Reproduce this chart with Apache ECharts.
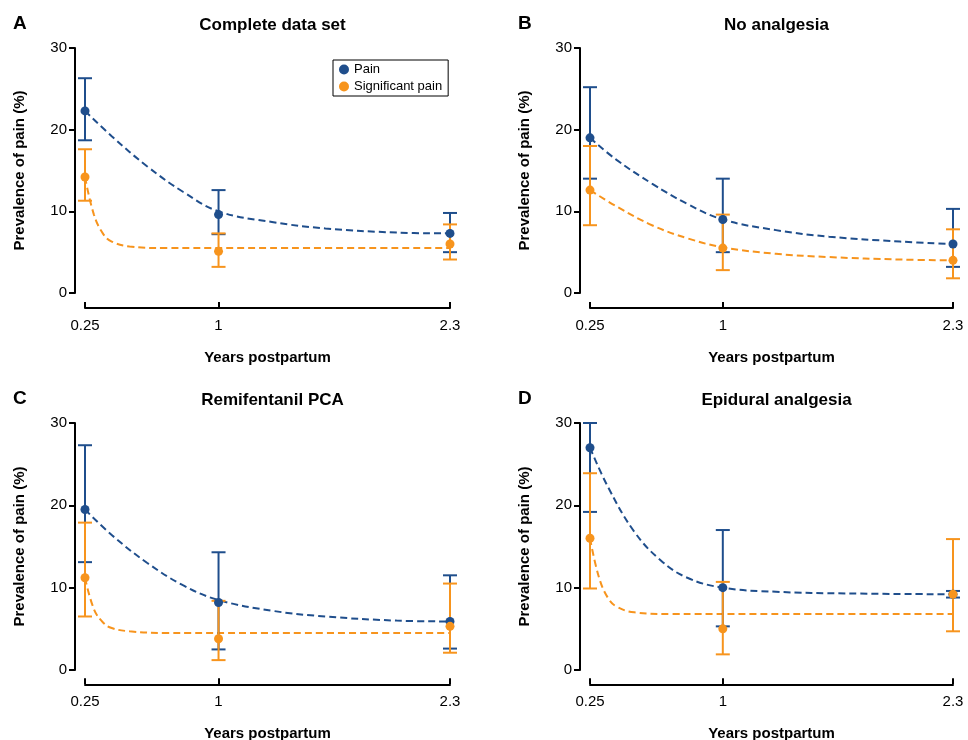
<!DOCTYPE html>
<html><head><meta charset="utf-8">
<script src="https://cdn.jsdelivr.net/npm/echarts@6/dist/echarts.min.js"></script>
<style>html,body{margin:0;background:#fff}#c{width:968px;height:740px}</style></head>
<body><div id="c"></div>
<script>
var xTicks=[0.25,1,2.3];
var panelTitles=['Complete data set','No analgesia','Remifentanil PCA','Epidural analgesia'];
var panelLetters=['A','B','C','D'];
// [x, value, low, high]
var painA=[[0.25,22.3,18.7,26.3],[1,9.6,7.2,12.6],[2.3,7.3,5.0,9.8]];
var sigA=[[0.25,14.2,11.3,17.6],[1,5.1,3.2,7.3],[2.3,6.0,4.1,8.4]];
var painB=[[0.25,19.0,14.0,25.2],[1,9.0,5.0,14.0],[2.3,6.0,3.2,10.3]];
var sigB=[[0.25,12.6,8.3,18.0],[1,5.5,2.8,9.6],[2.3,4.0,1.8,7.8]];
var painC=[[0.25,19.5,13.1,27.3],[1,8.2,2.5,14.3],[2.3,5.9,2.6,11.5]];
var sigC=[[0.25,11.2,6.5,17.9],[1,3.8,1.2,8.4],[2.3,5.3,2.1,10.5]];
var painD=[[0.25,27.0,19.2,30],[1,10.0,5.3,17.0],[2.3,9.2,8.8,9.6]];
var sigD=[[0.25,16.0,9.9,23.9],[1,5.0,1.9,10.7],[2.3,9.2,4.7,15.9]];
// fitted curves
var fitPainA=[[0.25,22.3],[0.4,19.2],[0.6,15.5],[0.8,12.4],[1,10.0],[1.3,8.7],[1.6,7.9],[2.0,7.4],[2.3,7.3]];
var fitSigA=[[0.25,14.2],[0.3,9.6],[0.35,7.3],[0.4,6.3],[0.5,5.7],[0.7,5.5],[1.5,5.5],[2.3,5.5]];
var fitPainB=[[0.25,19.0],[0.4,16.3],[0.6,13.4],[0.8,10.9],[1,9.0],[1.3,7.7],[1.6,6.9],[2.0,6.3],[2.3,6.0]];
var fitSigB=[[0.25,12.6],[0.4,10.6],[0.6,8.3],[0.8,6.7],[1,5.6],[1.3,4.8],[1.6,4.4],[2.0,4.1],[2.3,4.0]];
var fitPainC=[[0.25,19.5],[0.4,16.4],[0.6,13.0],[0.8,10.3],[1,8.5],[1.3,7.2],[1.6,6.5],[2.0,6.0],[2.3,5.9]];
var fitSigC=[[0.25,11.2],[0.3,7.4],[0.35,5.8],[0.4,5.1],[0.5,4.7],[0.7,4.5],[1.5,4.5],[2.3,4.5]];
var fitPainD=[[0.25,27.0],[0.35,22.3],[0.5,16.8],[0.65,13.3],[0.8,11.2],[1,10.0],[1.3,9.5],[1.7,9.3],[2.3,9.2]];
var fitSigD=[[0.25,16.0],[0.3,11.3],[0.35,8.8],[0.4,7.7],[0.5,7.0],[0.7,6.8],[1.5,6.8],[2.3,6.8]];

var pains=[painA,painB,painC,painD], sigs=[sigA,sigB,sigC,sigD];
var fitPains=[fitPainA,fitPainB,fitPainC,fitPainD], fitSigs=[fitSigA,fitSigB,fitSigC,fitSigD];
var BLUE='#1f4e8c', ORANGE='#f7941d';
var grids=[{left:85,top:48,width:365,height:245},{left:590,top:48,width:363,height:245},
           {left:85,top:423,width:365,height:247},{left:590,top:423,width:363,height:247}];
var opt={animation:false,textStyle:{fontFamily:'Arial, Liberation Sans'},grid:[],xAxis:[],yAxis:[],series:[],title:[],
 legend:{show:true,data:['Pain','Significant pain'],left:333,top:60,orient:'vertical',itemGap:4,itemWidth:10,itemHeight:10,
  borderColor:'#000',borderWidth:1,padding:[3,6,3,6],textStyle:{fontSize:13,color:'#000'}}};
function errSeries(data,color,i){
 return {type:'custom',xAxisIndex:i,yAxisIndex:i,z:3,clip:false,
  data:data.map(function(d){return [d[0],d[2],d[3]];}),
  renderItem:function(p,api){var x=api.value(0);var lo=api.coord([x,api.value(1)]),hi=api.coord([x,api.value(2)]);var w=7;
   var st={stroke:color,lineWidth:2};
   return {type:'group',children:[
    {type:'line',shape:{x1:lo[0],y1:lo[1],x2:hi[0],y2:hi[1]},style:st},
    {type:'line',shape:{x1:lo[0]-w,y1:lo[1],x2:lo[0]+w,y2:lo[1]},style:st},
    {type:'line',shape:{x1:hi[0]-w,y1:hi[1],x2:hi[0]+w,y2:hi[1]},style:st}]};}};
}
for(var i=0;i<4;i++){
 var g=grids[i];
 opt.grid.push(g);
 opt.xAxis.push({type:'value',gridIndex:i,min:0.25,max:2.3,show:false,splitLine:{show:false}});
 opt.yAxis.push({type:'value',gridIndex:i,min:0,max:30,interval:10,offset:10,name:'Prevalence of pain (%)',nameLocation:'middle',nameGap:48,
  nameTextStyle:{fontSize:15,fontWeight:'bold',color:'#000'},
  axisLine:{show:true,lineStyle:{color:'#000',width:2}},splitLine:{show:false},
  axisTick:{show:true,length:6,lineStyle:{color:'#000',width:2}},axisLabel:{fontSize:15,color:'#000'}});
 opt.title.push({text:panelTitles[i],left:g.left+g.width/2,textAlign:'center',top:g.top-36,textStyle:{fontSize:17,fontWeight:'bold',color:'#000'}});
 opt.title.push({text:panelLetters[i],left:g.left-77,top:g.top-39,textStyle:{fontSize:19,fontWeight:'bold',color:'#000'}});
 opt.series.push({type:'line',xAxisIndex:i,yAxisIndex:i,data:fitPains[i],smooth:0.4,showSymbol:false,lineStyle:{color:BLUE,width:2,type:[7,4]},z:2,silent:true});
 opt.series.push({type:'line',xAxisIndex:i,yAxisIndex:i,data:fitSigs[i],smooth:0.4,showSymbol:false,lineStyle:{color:ORANGE,width:2,type:[7,4]},z:2,silent:true});
 opt.series.push(errSeries(pains[i],BLUE,i));
 opt.series.push(errSeries(sigs[i],ORANGE,i));
 opt.series.push({type:'scatter',name:i==0?'Pain':undefined,xAxisIndex:i,yAxisIndex:i,data:pains[i].map(function(d){return [d[0],d[1]];}),symbolSize:9,itemStyle:{color:BLUE,opacity:1},z:4});
 opt.series.push({type:'scatter',name:i==0?'Significant pain':undefined,xAxisIndex:i,yAxisIndex:i,data:sigs[i].map(function(d){return [d[0],d[1]];}),symbolSize:9,itemStyle:{color:ORANGE,opacity:1},z:4});
}
// separate strip grids for the detached x axes
for(var j=0;j<4;j++){
 var g2=grids[j];
 opt.grid.push({left:g2.left,width:g2.width,top:g2.top+g2.height+14,height:1});
 opt.xAxis.push({type:'value',gridIndex:4+j,min:0.25,max:2.3,name:'Years postpartum',nameLocation:'middle',nameGap:42,
  nameTextStyle:{fontSize:15,fontWeight:'bold',color:'#000'},
  axisLine:{lineStyle:{color:'#000',width:2}},splitLine:{show:false},
  axisTick:{customValues:xTicks,inside:true,length:6,lineStyle:{color:'#000',width:2}},
  axisLabel:{customValues:xTicks,margin:10,fontSize:15,color:'#000',formatter:function(v){return String(v);}}});
 opt.yAxis.push({type:'value',gridIndex:4+j,show:false,splitLine:{show:false}});
}
echarts.init(document.getElementById('c')).setOption(opt);
</script></body></html>
